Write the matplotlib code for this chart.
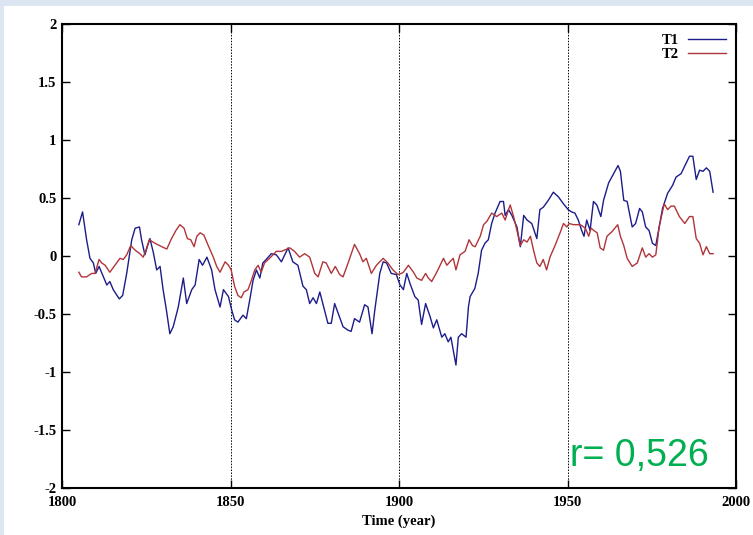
import matplotlib.pyplot as plt
from matplotlib.patches import Rectangle

# T1 (blue)
t1_years = [1805, 1806.1, 1807.3, 1808.3, 1809.3, 1810, 1811, 1812.3, 1813.3, 1814.2,
            1815.2, 1817, 1818, 1819.2, 1820.7, 1821.7, 1823, 1823.6, 1824.6, 1825.3,
            1826.1, 1827.1, 1828.1, 1829.1, 1830, 1831, 1832, 1833, 1834.5, 1836,
            1837, 1838.5, 1839.5, 1840.7, 1841.7, 1843, 1844.4, 1845.4, 1846.9, 1847.9,
            1849.4, 1850.4, 1851.2, 1852.2, 1853.7, 1854.7, 1855.7, 1856.7, 1857.7, 1858.7,
            1859.6, 1860.6, 1862.1, 1863.6, 1865.1, 1867.1, 1868.5, 1870, 1871.5, 1872.5,
            1873.5, 1874.5, 1875.5, 1876.5, 1877.4, 1878.9, 1879.9, 1880.9, 1881.9, 1883.4,
            1884.9, 1885.8, 1886.8, 1888.3, 1889.8, 1890.8, 1892, 1892.8, 1894.3, 1895.3,
            1896.3, 1897.7, 1899.2, 1900.3, 1901.3, 1902.3, 1903.3, 1904.7, 1905.7, 1906.7,
            1907.9, 1909.2, 1910.2, 1911.2, 1912.7, 1913.6, 1914.6, 1915.4, 1916.1, 1916.9,
            1917.6, 1918.6, 1919.9, 1920.6, 1921.1, 1922.5, 1923.5, 1924.5, 1925.5, 1926.5,
            1927.5, 1928.5, 1930, 1931, 1931.5, 1932.5, 1933.5, 1935, 1936, 1937,
            1938, 1939.4, 1940.9, 1941.8, 1942.8, 1944.3, 1945.8, 1947.3, 1948.8, 1950.2,
            1951.2, 1952.2, 1953.2, 1954.2, 1954.9, 1955.7, 1956.7, 1957.7, 1958.7, 1959.9,
            1960.7, 1962.2, 1963.7, 1965, 1965.7, 1966.7, 1967.7, 1969.2, 1970.2, 1971.4,
            1972.2, 1973.2, 1974.2, 1975.2, 1976.2, 1977.2, 1978.2, 1979.7, 1981.2, 1982.2,
            1983.7, 1985.2, 1986.2, 1987.2, 1988.2, 1989.2, 1990.2, 1991.2, 1992.2, 1993.2]
t1_values = [0.27, 0.38, 0.14, -0.02, -0.06, -0.15, -0.09, -0.18, -0.25, -0.22,
             -0.29, -0.37, -0.34, -0.15, 0.14, 0.24, 0.25, 0.14, 0.01, 0.08,
             0.15, 0.03, -0.12, -0.09, -0.29, -0.47, -0.67, -0.61, -0.44, -0.19,
             -0.41, -0.29, -0.25, -0.03, -0.08, -0.01, -0.12, -0.29, -0.44, -0.29,
             -0.35, -0.47, -0.55, -0.57, -0.51, -0.54, -0.38, -0.21, -0.12, -0.19,
             -0.06, -0.03, 0.02, 0.01, -0.05, 0.07, -0.05, -0.08, -0.26, -0.29,
             -0.41, -0.36, -0.41, -0.31, -0.41, -0.58, -0.58, -0.41, -0.49, -0.61,
             -0.64, -0.65, -0.54, -0.57, -0.42, -0.44, -0.67, -0.47, -0.15, -0.05,
             -0.06, -0.15, -0.16, -0.25, -0.29, -0.15, -0.24, -0.35, -0.38, -0.59,
             -0.41, -0.52, -0.62, -0.55, -0.70, -0.67, -0.74, -0.70, -0.81, -0.94,
             -0.70, -0.67, -0.70, -0.44, -0.35, -0.28, -0.15, 0.05, 0.11, 0.14,
             0.28, 0.37, 0.47, 0.47, 0.35, 0.40, 0.35, 0.25, 0.08, 0.35,
             0.31, 0.28, 0.15, 0.40, 0.42, 0.48, 0.55, 0.51, 0.45, 0.40,
             0.38, 0.37, 0.31, 0.22, 0.17, 0.31, 0.22, 0.47, 0.44, 0.34,
             0.48, 0.63, 0.71, 0.78, 0.73, 0.48, 0.47, 0.25, 0.28, 0.41,
             0.38, 0.25, 0.22, 0.11, 0.09, 0.25, 0.41, 0.54, 0.61, 0.68,
             0.71, 0.80, 0.86, 0.86, 0.66, 0.74, 0.73, 0.76, 0.73, 0.55]

# T2 (red)
t2_years = [1805, 1805.8, 1807.3, 1808.8, 1809.8, 1811, 1811.8, 1812.8, 1814.2, 1815.7,
            1817.2, 1818.2, 1819.2, 1820.4, 1821.7, 1823.1, 1824.1, 1824.9, 1825.9, 1827.6,
            1829.6, 1831.1, 1832.5, 1833.8, 1835, 1836.2, 1837.2, 1838.2, 1839.2, 1840,
            1841, 1842.1, 1843.4, 1844.9, 1845.9, 1846.9, 1848.4, 1849.4, 1850.2, 1851.2,
            1852.2, 1853.2, 1854, 1855.2, 1856.2, 1857.2, 1858.2, 1859.1, 1860.1, 1861.6,
            1863.6, 1865.1, 1867.6, 1869, 1870.5, 1872, 1873.5, 1875, 1876, 1877.4,
            1878.4, 1879.9, 1881.1, 1882.4, 1883.4, 1884.9, 1886.8, 1888.3, 1889.3, 1890.3,
            1891.8, 1893.3, 1895.3, 1896.7, 1898.2, 1899.7, 1900.7, 1901.3, 1902.8, 1904.3,
            1905.3, 1906.7, 1907.9, 1908.7, 1909.7, 1911.2, 1912.2, 1913.2, 1914.2, 1915.1,
            1916.1, 1916.9, 1918.1, 1919.6, 1920.8, 1921.8, 1922.6, 1924.1, 1925.1, 1926.1,
            1927.5, 1929, 1930.5, 1931.5, 1932.5, 1933, 1934, 1935, 1936, 1937,
            1938, 1939, 1940, 1940.9, 1941.8, 1942.8, 1943.8, 1944.8, 1946.3, 1947.8,
            1948.8, 1949.8, 1950.5, 1951.8, 1953.8, 1955.3, 1956.3, 1957, 1957.8, 1958.8,
            1959.7, 1960.7, 1961.7, 1963.2, 1964.9, 1965.7, 1966.7, 1967.7, 1969.2, 1970.7,
            1972.2, 1973.2, 1974.2, 1975.2, 1976.2, 1977.2, 1978.7, 1979.7, 1980.7, 1981.7,
            1983.2, 1984.8, 1986.2, 1987.2, 1988.2, 1989.2, 1990.2, 1991.2, 1992.2, 1993.2]
t2_values = [-0.14, -0.18, -0.18, -0.15, -0.15, -0.03, -0.06, -0.08, -0.14, -0.08,
             -0.02, -0.03, 0.01, 0.09, 0.05, 0.02, -0.01, 0.05, 0.14, 0.11,
             0.08, 0.06, 0.15, 0.22, 0.27, 0.24, 0.15, 0.14, 0.08, 0.17,
             0.20, 0.18, 0.09, -0.01, -0.09, -0.14, -0.05, -0.08, -0.12, -0.26,
             -0.34, -0.36, -0.31, -0.29, -0.21, -0.12, -0.08, -0.14, -0.06, -0.02,
             0.04, 0.04, 0.07, 0.04, -0.01, 0.02, -0.01, -0.15, -0.18, -0.05,
             -0.06, -0.15, -0.09, -0.16, -0.18, -0.06, 0.10, 0.02, -0.05, -0.02,
             -0.15, -0.08, -0.02, -0.06, -0.12, -0.16, -0.15, -0.14, -0.08, -0.14,
             -0.19, -0.21, -0.15, -0.19, -0.22, -0.14, -0.08, -0.02, -0.08, -0.05,
             -0.02, -0.12, 0.01, 0.04, 0.14, 0.09, 0.08, 0.17, 0.27, 0.30,
             0.37, 0.34, 0.37, 0.31, 0.40, 0.44, 0.34, 0.22, 0.09, 0.14,
             0.12, 0.17, 0.04, -0.06, -0.09, -0.03, -0.12, -0.01, 0.09, 0.20,
             0.28, 0.25, 0.28, 0.27, 0.27, 0.24, 0.17, 0.24, 0.22, 0.20,
             0.07, 0.05, 0.17, 0.21, 0.27, 0.17, 0.09, -0.02, -0.09, -0.06,
             0.07, -0.01, 0.02, -0.01, 0.01, 0.25, 0.45, 0.40, 0.43, 0.43,
             0.34, 0.28, 0.34, 0.34, 0.15, 0.11, 0.01, 0.08, 0.02, 0.02]

x_ticks = [1800, 1850, 1900, 1950, 2000]
y_ticks = [-2, -1.5, -1, -0.5, 0, 0.5, 1, 1.5, 2]
y_labels = ['-2', '-1.5', '-1', '-0.5', '0', '0.5', '1', '1.5', '2']

serif = 'Liberation Serif'

fig = plt.figure(figsize=(7.53, 5.35), dpi=100)
fig.patch.set_facecolor('#dce5f2')
# white slide area behind the chart
bg = Rectangle((4 / 753, 0), 1, 1 - 6 / 535, transform=fig.transFigure,
               facecolor='white', edgecolor='none', zorder=-10)
fig.add_artist(bg)

ax = fig.add_axes([62 / 753, 1 - 488 / 535, 674 / 753, 464 / 535])
ax.set_zorder(1)
ax.plot(t1_years, t1_values, color='#1c1c8a', lw=1.0, label='T1')
ax.plot(t2_years, t2_values, color='#b0353a', lw=1.0, label='T2')

for x in [1850, 1900, 1950]:
    ax.axvline(x, color='black', lw=0.7, ls=(0, (1.5, 1.5)), zorder=0)

ax.set_xlim(1800, 2000)
ax.set_ylim(-2, 2)
ax.set_xticks(x_ticks)
ax.set_yticks(y_ticks)
ax.set_yticklabels(y_labels)
ax.tick_params(direction='in', length=6, width=1, top=True, right=True, pad=4)
ax.tick_params(axis='x', pad=6)
for lab in ax.get_xticklabels() + ax.get_yticklabels():
    lab.set_fontfamily(serif)
    lab.set_fontsize(10.5)
    lab.set_fontweight('bold')
for s in ax.spines.values():
    s.set_linewidth(1.5)

ax.set_xlabel('Time (year)', fontfamily=serif, fontsize=10.5, fontweight='bold', labelpad=4)

leg = ax.legend(loc='upper right', frameon=False, markerfirst=False, handlelength=2.6,
                prop={'family': serif, 'size': 10.5, 'weight': 'bold'},
                labelspacing=0.0, borderaxespad=0.3, handletextpad=0.6)

ax.text(0.753, 0.048, 'r= 0,526', transform=ax.transAxes, color='#00b050',
        fontsize=27, fontfamily='Liberation Sans')

fig.savefig('out.png', dpi=100)
